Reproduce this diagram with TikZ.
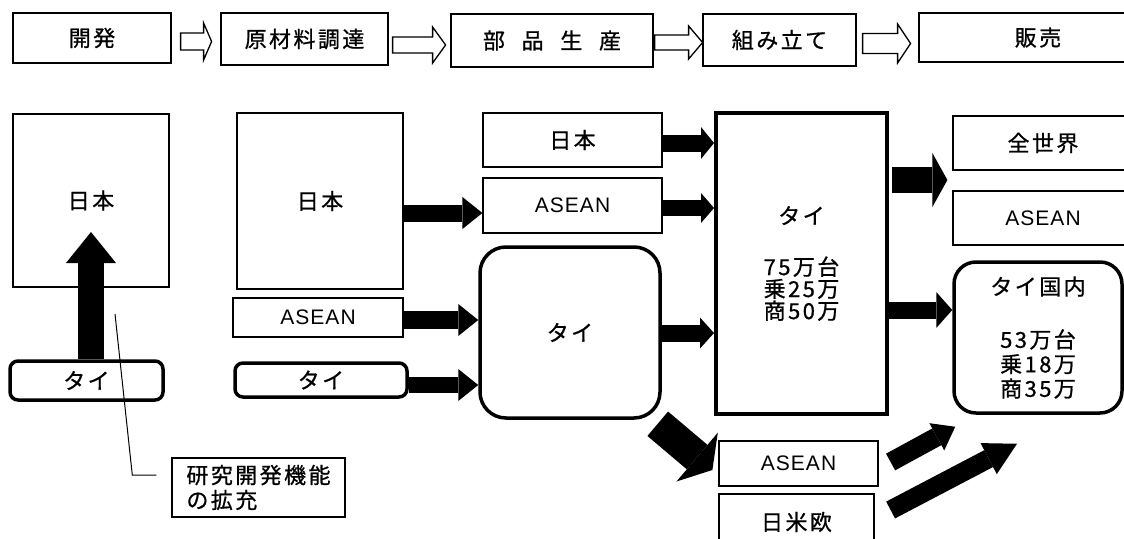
\documentclass[tikz,border=0pt]{standalone}
\usepackage{fontspec}
\setmainfont{Noto Sans CJK JP}[LetterSpace=11,FakeBold=0.8]
\newfontfamily\latinfam{Liberation Sans}[LetterSpace=5]
\usetikzlibrary{arrows.meta,calc}
\newcommand\ase{{\latinfam\fontsize{21}{22}\selectfont ASEAN}}
% hollow block arrow: #1 source node, #2 gap, #3 shaft length, #4 tip length, #5 dy, #6 half shaft, #7 half head
\newcommand\hollowarr[7]{%
  \draw[hollow] ($(#1.east)+(#2,#5-#6)$) -- ++(#3,0) -- ++(0,#6-#7) -- ++(#4,#7) -- ++(-#4,#7) -- ++(0,#6-#7) -- ++(-#3,0) -- cycle;}
\begin{document}
\begin{tikzpicture}[x=1pt,y=-1pt,
  every node/.style={font=\fontsize{22}{22}\selectfont, inner sep=0pt, align=center},
  sz/.style 2 args={minimum width=#1pt, minimum height=#2pt},
  box/.style={draw, line width=1.2pt},
  rbox/.style={draw, line width=3.5pt, rounded corners=#1pt},
  fat/.style n args={3}{line width=#1pt, -{Triangle[width=#2pt,length=#3pt,line width=0pt]}},
  hollow/.style={draw, line width=1.3pt, fill=white, line join=miter}]
\clip (0,0) rectangle (1124,538);
\fill[white] (0,0) rectangle (1124,538);
% top row
\node[box, sz={158}{50}] (dev) at (92,38) {開発};
\node[box, sz={167}{52}] (raw) at (304.5,39) {原材料調達};
\node[box, sz={202}{53}] (parts) at (552,40.5) {\addfontfeatures{LetterSpace=76}部品生産};
\node[box, sz={153}{52}] (asm) at (779.5,40) {組み立て};
\node[box, sz={238}{49}] (sale) at (1038,37.5) {販売};
\hollowarr{dev}{9}{23}{8}{3.5}{8.5}{18.5}
\hollowarr{raw}{4}{40}{13}{6}{8}{18}
\hollowarr{parts}{1}{34}{14}{2}{7.5}{16.5}
\hollowarr{asm}{6}{35}{13}{3.5}{10}{19.5}
% column 1
\node[box, sz={156}{173}] (j1) at (91,200.5) {日本};
\node[rbox=8, sz={153}{39}] (t1) at (86.5,380.5) {タイ};
% column 2
\node[box, line width=1.6pt, sz={166}{176}] (j2) at (320,201) {日本};
\node[box, sz={170}{39}] (a2) at (318,317.5) {\ase};
\node[rbox=8, sz={172}{34}] (t2) at (321,380) {タイ};
% column 3
\node[box, sz={179}{54}] (j3) at (572.5,140) {日本};
\node[box, sz={179}{55}] (a3) at (572.5,205.5) {\ase};
\node[rbox=26, sz={180}{171}] (t3) at (570,332.5) {タイ};
% column 4
\node[box, line width=4pt, sz={171}{301}] (t4) at (801.5,263.5) {タイ\\[29pt]75万台\\乗25万\\商50万};
% column 5
\node[box, sz={180}{54}] (w5) at (1043,143) {全世界};
\node[box, sz={180}{54}] (a5) at (1043,218) {\ase};
\node[rbox=22, sz={168}{151}] (d5) at (1038,337.5) {タイ国内\\[31pt]53万台\\[2.5pt]乗18万\\[2.5pt]商35万};
% bottom
\node[box, sz={159}{45}] (a6) at (798.5,463.5) {\ase};
\node[box, sz={155}{56}] (e6) at (796.5,522) {日米欧};
\node[box, line width=1.4pt, sz={173}{59}, align=left] (callout) at (258.5,487.5) {研究開発機能\\[3pt]の拡充};
% fat arrows
\draw[fat={26}{50}{31}] (t1.north -| j1.center) -- ($(j1.center)+(0,31.5)$);
\draw[fat={17}{32}{20}] (j2.east |- 0,213) -- (a3.west |- 0,213);
\draw[fat={18}{32}{20}] (a2.east |- 0,320) -- (t3.west |- 0,320);
\draw[fat={16}{32}{20}] (t2.east |- 0,385) -- (t3.west |- 0,385);
\draw[fat={17}{32}{13}] (j3.east |- 0,143) -- (t4.west |- 0,143);
\draw[fat={16}{30}{13}] (a3.east |- 0,208) -- (t4.west |- 0,208);
\draw[fat={17}{31}{14}] (t3.east |- 0,333) -- (t4.west |- 0,333);
\draw[fat={26}{54}{15}] ($(t4.east |- 0,180)+(3,0)$) -- ($(w5.west |- 0,180)+(-5,0)$);
\draw[fat={17}{36}{16}] (t4.east |- 0,310) -- (d5.west |- 0,310);
\draw[fat={32}{64}{20}] ($(t3.south east)+(-4,4)$) -- ($(a6.west)+(-6,6.5)$);
\draw[fat={19}{31}{21}] ($(a6.east)+(12,-1.5)$) -- ($(d5.south west)+(3,12)$);
\draw[fat={19}{35}{32}] ($(e6.east)+(16,-12)$) -- ($(d5.south)+(-21,29)$);
% callout line
\coordinate (cl) at (115,314);
\draw[line width=1pt] (cl) -- ($(callout.west)+(-39,-12.5)$) -- ($(callout.west)+(-15,-12.5)$);
\end{tikzpicture}
\end{document}
